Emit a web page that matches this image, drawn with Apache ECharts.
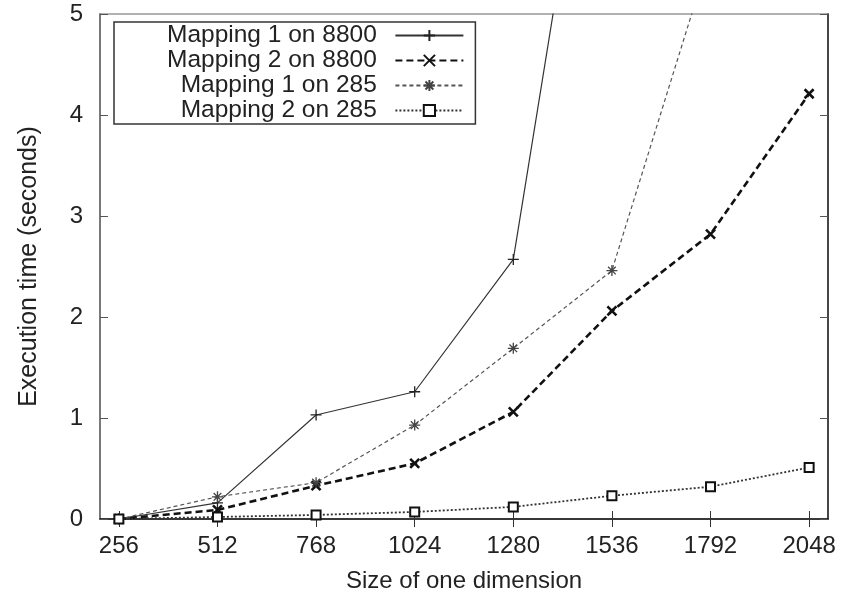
<!DOCTYPE html>
<html>
<head>
<meta charset="utf-8">
<script src="https://cdn.jsdelivr.net/npm/echarts@6/dist/echarts.min.js"></script>
<style>
html, body { margin: 0; padding: 0; background: #fff; }
#chart { width: 852px; height: 593px; }
</style>
</head>
<body>
<div id="chart"></div>
<script>
// size of one dimension
var sizes = [256, 512, 768, 1024, 1280, 1536, 1792, 2048];
var yTicks = [0, 1, 2, 3, 4, 5];

// execution time (seconds)
var map1on8800 = [0.0, 0.16, 1.03, 1.26, 2.57, 8.6];
var map2on8800 = [0.0, 0.09, 0.33, 0.55, 1.06, 2.06, 2.82, 4.21];
var map1on285 = [0.0, 0.22, 0.36, 0.93, 1.69, 2.46, 5.6];
var map2on285 = [0.0, 0.02, 0.04, 0.07, 0.12, 0.23, 0.32, 0.51];

var seriesNames = ['Mapping 1 on 8800', 'Mapping 2 on 8800', 'Mapping 1 on 285', 'Mapping 2 on 285'];

function pairs(vals) {
    return vals.map(function(v, i) { return [sizes[i], v]; });
}

var plusPath = 'path://M0,5L10,5M5,0L5,10';
var crossPath = 'path://M0,0L10,10M10,0L0,10';
var starPath = 'path://M0,5L10,5M5,0L5,10M1.5,1.5L8.5,8.5M8.5,1.5L1.5,8.5';

var chart = echarts.init(document.getElementById('chart'));

var txt = '#222';
var font = 'Liberation Sans, Arial, sans-serif';

var option = {
    backgroundColor: '#fff',
    animation: false,
    grid: {
        left: 100, right: 24, top: 14, bottom: 74,
        outerBoundsMode: 'none',
        show: true,
        borderColor: '#999',
        borderWidth: 1.5
    },
    legend: {
        orient: 'vertical',
        left: 114,
        top: 22,
        align: 'right',
        itemWidth: 68,
        itemHeight: 14,
        itemGap: 0,
        padding: [1, 11, 1, 53],
        borderColor: '#333',
        borderWidth: 1.5,
        backgroundColor: '#fff',
        data: seriesNames,
        formatter: function(name) { return name + '  '; },
        textStyle: { fontSize: 24.5, lineHeight: 24, color: txt, fontFamily: font }
    },
    xAxis: [
        {
            type: 'value',
            min: 207,
            max: 2097,
            name: 'Size of one dimension',
            nameLocation: 'middle',
            nameGap: 50,
            nameTextStyle: { fontSize: 24, color: txt, fontFamily: font },
            axisLine: { lineStyle: { color: '#111', width: 1.5 } },
            axisTick: { inside: true, length: 8, customValues: sizes, lineStyle: { color: '#333' } },
            axisLabel: {
                customValues: sizes, fontSize: 24, color: txt, fontFamily: font, margin: 15,
                formatter: function(v) { return String(v); }
            },
            splitLine: { show: false }
        },
        {
            type: 'value',
            position: 'top',
            min: 207,
            max: 2097,
            axisLine: { show: false },
            axisTick: { inside: true, length: 8, customValues: sizes, lineStyle: { color: '#333' } },
            axisLabel: { show: false },
            splitLine: { show: false }
        }
    ],
    yAxis: [
        {
            type: 'value',
            min: 0,
            max: 5,
            interval: 1,
            name: 'Execution time (seconds)',
            nameLocation: 'middle',
            nameGap: 58,
            nameTextStyle: { fontSize: 25, color: txt, fontFamily: font },
            axisLine: { show: true, lineStyle: { color: '#666', width: 1.5 } },
            axisTick: { show: true, inside: true, length: 8, lineStyle: { color: '#555' } },
            axisLabel: { fontSize: 24, color: txt, fontFamily: font, margin: 17 },
            splitLine: { show: false }
        },
        {
            type: 'value',
            position: 'right',
            min: 0,
            max: 5,
            interval: 1,
            axisLine: { show: true, lineStyle: { color: '#222', width: 1.5 } },
            axisTick: { show: true, inside: true, length: 8, lineStyle: { color: '#555' } },
            axisLabel: { show: false },
            splitLine: { show: false }
        }
    ],
    series: [
        {
            name: seriesNames[0],
            type: 'line',
            data: pairs(map1on8800),
            symbol: plusPath,
            symbolSize: 11,
            lineStyle: { color: '#333', width: 1.2, type: 'solid' },
            itemStyle: { color: 'none', borderColor: '#222', borderWidth: 1.3 }
        },
        {
            name: seriesNames[1],
            type: 'line',
            data: pairs(map2on8800),
            symbol: crossPath,
            symbolSize: 9,
            lineStyle: { color: '#111', width: 2.6, type: [7, 4] },
            itemStyle: { color: 'none', borderColor: '#111', borderWidth: 2.6 }
        },
        {
            name: seriesNames[2],
            type: 'line',
            data: pairs(map1on285),
            symbol: starPath,
            symbolSize: 11,
            lineStyle: { color: '#555', width: 1.2, type: [4, 3] },
            itemStyle: { color: 'none', borderColor: '#444', borderWidth: 1.3 }
        },
        {
            name: seriesNames[3],
            type: 'line',
            data: pairs(map2on285),
            symbol: 'rect',
            symbolSize: 9,
            lineStyle: { color: '#333', width: 1.8, type: [2, 2] },
            itemStyle: { color: '#fff', borderColor: '#111', borderWidth: 2 }
        }
    ]
};

chart.setOption(option);
</script>
</body>
</html>
